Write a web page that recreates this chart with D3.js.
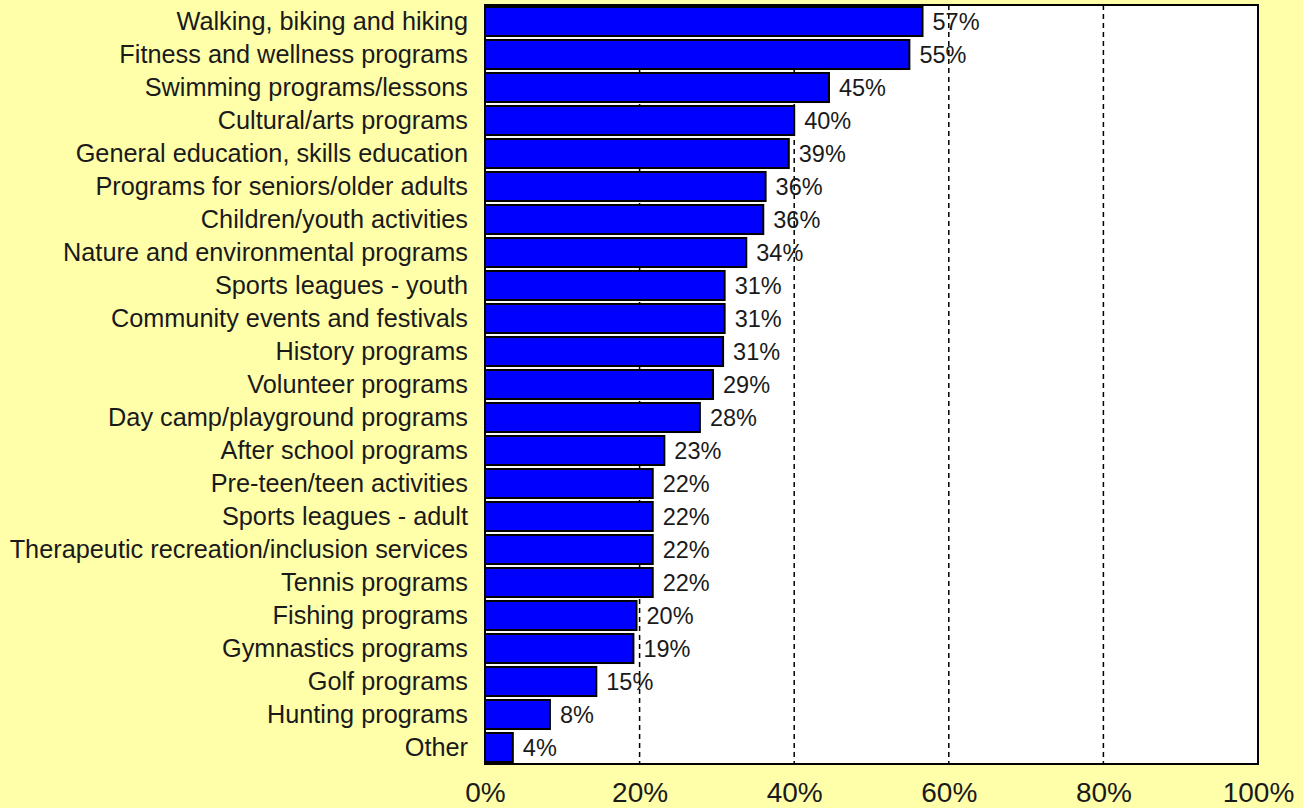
<!DOCTYPE html>
<html>
<head>
<meta charset="utf-8">
<script src="https://cdn.jsdelivr.net/npm/d3@7"></script>
<style>
  html, body { margin: 0; padding: 0; background: #FFFFAA; }
  svg { display: block; }
  text { font-family: "Liberation Sans", Arial, sans-serif; fill: #1a1a1a; }
</style>
</head>
<body>
<svg id="chart" width="1303" height="808"></svg>
<script>
const categories = [
  "Walking, biking and hiking",
  "Fitness and wellness programs",
  "Swimming programs/lessons",
  "Cultural/arts programs",
  "General education, skills education",
  "Programs for seniors/older adults",
  "Children/youth activities",
  "Nature and environmental programs",
  "Sports leagues - youth",
  "Community events and festivals",
  "History programs",
  "Volunteer programs",
  "Day camp/playground programs",
  "After school programs",
  "Pre-teen/teen activities",
  "Sports leagues - adult",
  "Therapeutic recreation/inclusion services",
  "Tennis programs",
  "Fishing programs",
  "Gymnastics programs",
  "Golf programs",
  "Hunting programs",
  "Other"
];
const values = [56.6, 54.9, 44.5, 40.0, 39.3, 36.3, 36.0, 33.8, 31.0, 31.0, 30.8, 29.5, 27.8, 23.2, 21.7, 21.7, 21.7, 21.7, 19.6, 19.2, 14.4, 8.4, 3.6];
const valueLabels = ["57%", "55%", "45%", "40%", "39%", "36%", "36%", "34%", "31%", "31%", "31%", "29%", "28%", "23%", "22%", "22%", "22%", "22%", "20%", "19%", "15%", "8%", "4%"];
const xTicks = [0, 20, 40, 60, 80, 100];
const gridTicks = [20, 40, 60, 80];

const svg = d3.select("#chart");
const plotLeft = 485, plotRight = 1258, plotTop = 5, plotBottom = 764;

const x = d3.scaleLinear().domain([0, 100]).range([plotLeft, plotRight]);
const y = d3.scaleBand().domain(categories).range([plotTop, plotBottom]).paddingInner(0.12).paddingOuter(0.06);

// plot background
svg.append("rect")
  .attr("x", plotLeft).attr("y", plotTop)
  .attr("width", plotRight - plotLeft).attr("height", plotBottom - plotTop)
  .attr("fill", "#ffffff");

// gridlines
svg.append("g").selectAll("line").data(gridTicks).join("line")
  .attr("x1", d => x(d)).attr("x2", d => x(d))
  .attr("y1", plotTop).attr("y2", plotBottom)
  .attr("stroke", "#000").attr("stroke-width", 1.5)
  .attr("stroke-dasharray", "5,4");

// bars
svg.append("g").selectAll("rect").data(values).join("rect")
  .attr("x", x(0))
  .attr("y", (d, i) => y(categories[i]))
  .attr("width", d => x(d) - x(0))
  .attr("height", y.bandwidth())
  .attr("fill", "#0000ff")
  .attr("stroke", "#000").attr("stroke-width", 2);

// value labels
svg.append("g").selectAll("text").data(values).join("text")
  .attr("x", d => x(d) + 10)
  .attr("y", (d, i) => y(categories[i]) + y.bandwidth() / 2)
  .attr("dy", "0.35em")
  .style("font-size", "23.5px")
  .text((d, i) => valueLabels[i]);

// frame
svg.append("rect")
  .attr("x", plotLeft).attr("y", plotTop)
  .attr("width", plotRight - plotLeft).attr("height", plotBottom - plotTop)
  .attr("fill", "none").attr("stroke", "#000").attr("stroke-width", 2);

// category axis labels
const yAxis = d3.axisLeft(y).tickSize(0).tickPadding(17);
const gy = svg.append("g").attr("transform", `translate(${plotLeft},0)`).call(yAxis);
gy.select(".domain").remove();
gy.selectAll("text")
  .style("font-size", "25.3px")
  .style("font-family", '"Liberation Sans", Arial, sans-serif')
  .attr("fill", "#1a1a1a");

// x axis
const xAxis = d3.axisBottom(x).tickValues(xTicks).tickSize(0).tickPadding(18).tickFormat(d => d + "%");
const gx = svg.append("g").attr("transform", `translate(0,${plotBottom})`).call(xAxis);
gx.select(".domain").remove();
gx.selectAll("text")
  .style("font-size", "28px")
  .style("font-family", '"Liberation Sans", Arial, sans-serif')
  .attr("fill", "#1a1a1a");
</script>
</body>
</html>
